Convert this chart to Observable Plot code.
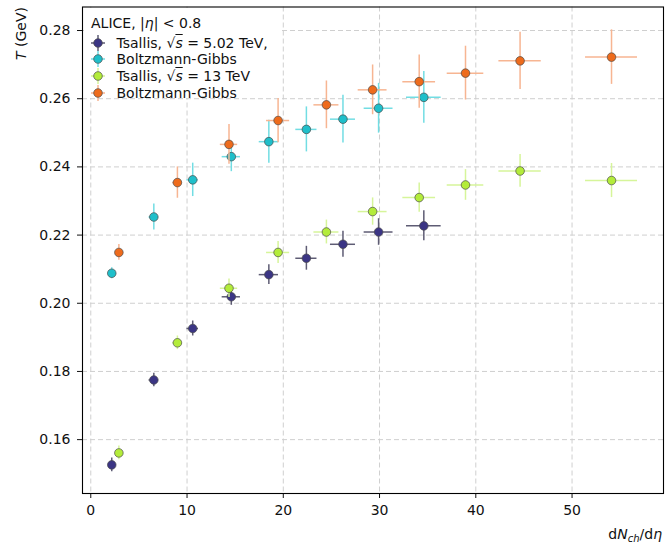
<!DOCTYPE html>
<html><head><meta charset="utf-8">
<script src="https://cdn.jsdelivr.net/npm/d3@7"></script>
<script src="https://cdn.jsdelivr.net/npm/@observablehq/plot@0.6"></script>
<style>
body{margin:0;background:#fff;font-family:"DejaVu Sans",sans-serif;}
#wrap{position:relative;width:669px;height:546px;}
.lg{position:absolute;font-size:14px;line-height:16px;color:#111;white-space:nowrap;}
.ov{text-decoration:overline;font-style:italic;}
</style></head><body><div id="wrap"></div>
<script>
// sqrt(s) = 5.02 TeV
const x502 = [2.18, 6.55, 10.59, 14.6, 18.5, 22.4, 26.2, 29.9, 34.6];
const xErr502 = [0.3, 0.5, 0.6, 0.95, 1.0, 1.1, 1.3, 1.5, 1.8];
const tsallis502 = [0.1526, 0.1775, 0.1926, 0.2019, 0.2084, 0.2132, 0.2173, 0.2209, 0.2227];
const tsallis502Err = [0.002, 0.002, 0.0022, 0.0025, 0.0029, 0.0035, 0.0038, 0.0039, 0.0044];
const bg502 = [0.2088, 0.2253, 0.2362, 0.2430, 0.2474, 0.2510, 0.2540, 0.2572, 0.2604];
const bg502Err = [0.0016, 0.0038, 0.0049, 0.0044, 0.0063, 0.0066, 0.0070, 0.0073, 0.0076];
// sqrt(s) = 13 TeV
const x13 = [2.92, 9.0, 14.36, 19.46, 24.48, 29.28, 34.12, 38.93, 44.6, 54.1];
const xErr13 = [0.3, 0.5, 0.9, 1.2, 1.3, 1.5, 1.7, 1.9, 2.2, 2.7];
const tsallis13 = [0.1561, 0.1884, 0.2044, 0.2149, 0.2209, 0.2269, 0.2310, 0.2347, 0.2388, 0.2360];
const tsallis13Err = [0.002, 0.002, 0.0027, 0.0032, 0.0035, 0.0040, 0.0043, 0.0045, 0.0048, 0.0050];
const bg13 = [0.2149, 0.2354, 0.2466, 0.2536, 0.2582, 0.2626, 0.2650, 0.2675, 0.2711, 0.2722];
const bg13Err = [0.0023, 0.0046, 0.0058, 0.0065, 0.0070, 0.0073, 0.0078, 0.0079, 0.0084, 0.0080];

const xTicks = [0, 10, 20, 30, 40, 50];
const yTicks = [0.16, 0.18, 0.20, 0.22, 0.24, 0.26, 0.28];
const legendTitle = "ALICE, |η| < 0.8";

const rows = (xs, xe, ys, ye) => xs.map((x, i) => ({x, xe: xe[i], y: ys[i], ye: ye[i]}));
const series = [
  {data: rows(x502, xErr502, tsallis502, tsallis502Err), color: "#3b3584", ecolor: "#5e5c74", label: "t502"},
  {data: rows(x502, xErr502, bg502, bg502Err), color: "#1fbfca", ecolor: "#72dde3", label: "Boltzmann-Gibbs"},
  {data: rows(x13, xErr13, tsallis13, tsallis13Err), color: "#b3ec3a", ecolor: "#d6f59a", label: "t13"},
  {data: rows(x13, xErr13, bg13, bg13Err), color: "#ee6b1c", ecolor: "#f7b592", label: "Boltzmann-Gibbs"}
];

const marks = [
  Plot.gridX(xTicks, {stroke: "#cfcfcf", strokeOpacity: 1, strokeDasharray: "5,3", strokeWidth: 1}),
  Plot.gridY(yTicks, {stroke: "#cfcfcf", strokeOpacity: 1, strokeDasharray: "5,3", strokeWidth: 1})
];
for (const s of series) {
  marks.push(Plot.ruleY(s.data, {y: "y", x1: d => d.x - d.xe, x2: d => d.x + d.xe, stroke: s.ecolor, strokeWidth: 1.5}));
  marks.push(Plot.ruleX(s.data, {x: "x", y1: d => d.y - d.ye, y2: d => d.y + d.ye, stroke: s.ecolor, strokeWidth: 1.5}));
  marks.push(Plot.dot(s.data, {x: "x", y: "y", r: 4.3, fill: s.color, stroke: "#4a4a4a", strokeWidth: 0.7}));
}
marks.push(Plot.axisX(xTicks, {tickSize: 5, tickPadding: 7, label: null, fontSize: 14}));
marks.push(Plot.axisY(yTicks, {tickSize: 5, tickPadding: 7, label: null, tickFormat: d3.format(".2f"), fontSize: 14}));
marks.push(Plot.frame({stroke: "#000", strokeWidth: 1.1}));

const chart = Plot.plot({
  width: 669, height: 546,
  marginTop: 6.5, marginRight: 6, marginBottom: 53, marginLeft: 82,
  x: {domain: [-0.86, 59.5]},
  y: {domain: [0.1442, 0.2869]},
  style: {fontFamily: "DejaVu Sans", fontSize: "14px", color: "#111", background: "#fff"},
  marks
});
const wrap = document.getElementById("wrap");
wrap.appendChild(chart);

const svg = d3.select(chart);
// y axis label
const yl = svg.append("text").attr("transform", "translate(26,7) rotate(-90)")
  .attr("text-anchor", "end").attr("font-size", 14).attr("fill", "#111");
yl.append("tspan").attr("font-style", "italic").text("T");
yl.append("tspan").text(" (GeV)");
// x axis label
const xl = svg.append("text").attr("x", 662).attr("y", 539).attr("text-anchor", "end")
  .attr("font-size", 14).attr("fill", "#111");
xl.append("tspan").text("d");
xl.append("tspan").attr("font-style", "italic").text("N");
xl.append("tspan").attr("font-style", "italic").attr("font-size", 10).attr("dy", 3).text("ch");
xl.append("tspan").attr("dy", -3).text("/d");
xl.append("tspan").attr("font-style", "italic").text("η");

// legend (HTML overlay)
const lg = document.createElement("div");
lg.style.cssText = "position:absolute;left:84px;top:8px;width:196px;height:90px;background:#fff;";
wrap.appendChild(lg);
function addText(html, left, cy) {
  const d = document.createElement("div");
  d.className = "lg"; d.style.left = left + "px"; d.style.top = (cy - 8) + "px";
  d.innerHTML = html; wrap.appendChild(d);
}
addText(legendTitle.replace("η", "<i>η</i>"), 91, 23);
const labels = [
  'Tsallis, √<span class="ov">s</span> = 5.02 TeV,',
  'Boltzmann-Gibbs',
  'Tsallis, √<span class="ov">s</span> = 13 TeV',
  'Boltzmann-Gibbs'
];
const cys = [42.7, 59.4, 76.1, 92.8];
series.forEach((s, i) => {
  const m = document.createElementNS("http://www.w3.org/2000/svg", "svg");
  m.setAttribute("width", 20); m.setAttribute("height", 18);
  m.style.cssText = `position:absolute;left:${98.3 - 10}px;top:${cys[i] - 9}px;`;
  const g = d3.select(m);
  g.append("line").attr("x1", 10).attr("x2", 10).attr("y1", 1).attr("y2", 17).attr("stroke", s.ecolor).attr("stroke-width", 1.5);
  g.append("line").attr("x1", 3).attr("x2", 17).attr("y1", 9).attr("y2", 9).attr("stroke", s.ecolor).attr("stroke-width", 1.5);
  g.append("circle").attr("cx", 10).attr("cy", 9).attr("r", 4.3).attr("fill", s.color).attr("stroke", "#4a4a4a").attr("stroke-width", 0.7);
  wrap.appendChild(m);
  addText(labels[i], 116.5, cys[i]);
});
</script></body></html>
